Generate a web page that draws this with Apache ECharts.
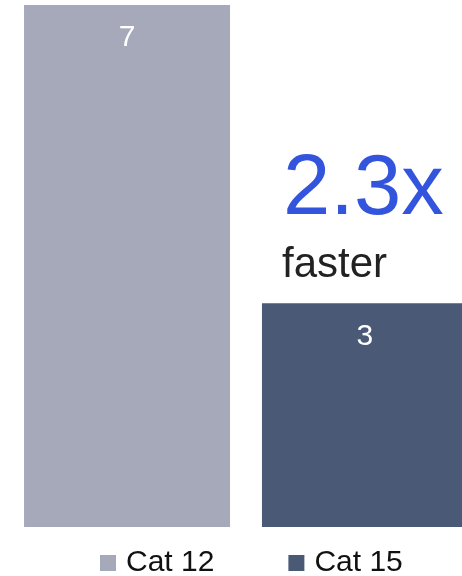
<!DOCTYPE html>
<html>
<head>
<meta charset="utf-8">
<script src="https://cdn.jsdelivr.net/npm/echarts@6/dist/echarts.min.js"></script>
<style>
  html, body { margin: 0; padding: 0; background: #fff; }
  #chart { width: 462px; height: 576px; }
</style>
</head>
<body>
<div id="chart"></div>
<script>
  const seriesNames = ['Cat 12', 'Cat 15']
  const seriesValues = [7, 3]
  const seriesColors = ['#a6a9ba', '#4a5a76']
  const speedup = '2.3x'
  const speedupNote = 'faster'

  const chart = echarts.init(document.getElementById('chart'))
  const font = '"Liberation Sans", Arial, sans-serif'

  let series = []
  for (let i = 0; i < seriesNames.length; i++) {
    series.push({
      name: seriesNames[i],
      type: 'bar',
      barWidth: 206,
      barGap: '15.5%',
      itemStyle: { color: seriesColors[i] },
      label: {
        show: true,
        position: 'insideTop',
        distance: 18,
        color: '#fff',
        fontSize: 30,
        fontFamily: font
      },
      data: [seriesValues[i]]
    })
  }

  chart.setOption({
    animation: false,
    grid: { left: 24, width: 444, top: 5, bottom: 49, outerBoundsMode: 'none' },
    xAxis: {
      type: 'category',
      data: [''],
      show: false
    },
    yAxis: {
      type: 'value',
      min: 0,
      max: 7,
      show: false
    },
    legend: {
      data: seriesNames,
      left: 95,
      top: 543,
      icon: 'rect',
      itemWidth: 16,
      itemHeight: 16,
      itemGap: 74,
      textStyle: {
        fontSize: 30,
        color: '#111',
        fontFamily: font,
        padding: [0, 0, 0, 5]
      }
    },
    graphic: [
      {
        type: 'text',
        left: 283,
        top: 148,
        style: {
          text: speedup,
          fontSize: 85,
          fill: '#3355dd',
          fontFamily: font
        }
      },
      {
        type: 'text',
        left: 282,
        top: 244,
        style: {
          text: speedupNote,
          fontSize: 42,
          fill: '#222',
          fontFamily: font
        }
      }
    ],
    series: series
  })
</script>
</body>
</html>
